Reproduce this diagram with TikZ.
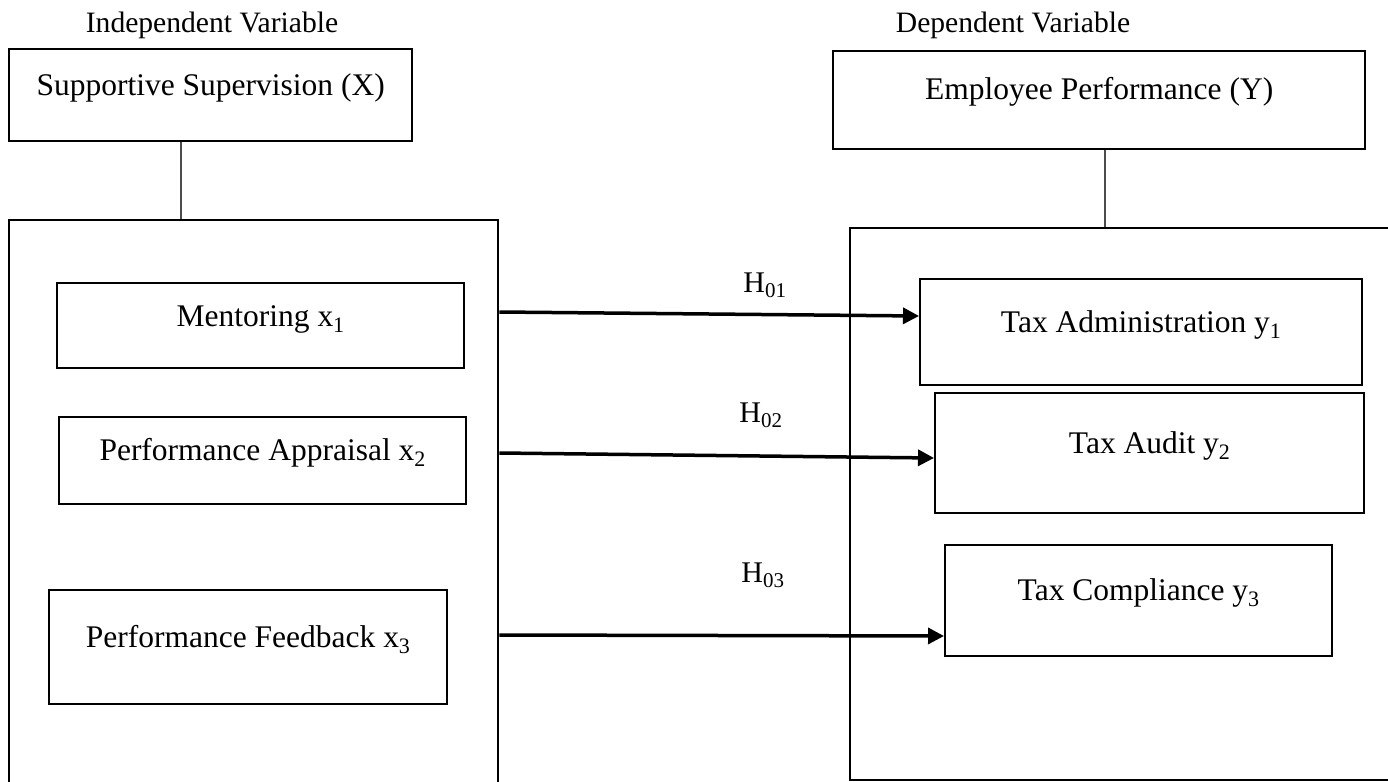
\documentclass[tikz,border=0pt]{standalone}
\usepackage{fontspec}
\setmainfont{Liberation Serif}
\usepackage{tikz}
\usetikzlibrary{arrows.meta}
\usetikzlibrary{positioning}

\tikzset{
  varbox/.style n args={3}{draw, line width=2.4pt, anchor=north west, inner sep=0pt,
    minimum width=#1, text height=#2, text depth=#3,
    font=\fontsize{31.5}{36}\selectfont},
  frame/.style 2 args={draw, line width=2.4pt, anchor=north west, inner sep=0pt,
    minimum width=#1, minimum height=#2},
  varlabel/.style={anchor=base, font=\fontsize{29.6}{34}\selectfont},
  hyplabel/.style={anchor=base, font=\fontsize{30}{34}\selectfont},
  link/.style={line width=1.3pt, black!70},
  hyp/.style={-{Triangle[length=16pt,width=16pt]}, line width=3.5pt}
}

\begin{document}
\begin{tikzpicture}[x=1pt,y=-1pt]
    \useasboundingbox (0,0) rectangle (1388,781);

    \node[varlabel] (indep) at (212,33) {Independent Variable};
    \node[varlabel] (dep) at (1013,33) {Dependent Variable};

    \node[varbox={403pt}{46pt}{46pt}] (supv) at (8,48) {Supportive Supervision (X)};
    \node[varbox={532pt}{48pt}{50pt}] (perf) at (832,50) {Employee Performance (Y)};

    \node[frame={489pt}{580pt}] (leftbig) at (8,219) {};
    \node[frame={560pt}{552pt}] (rightbig) at (849,227) {};

    \begin{scope}
        \node[varbox={407pt}{43pt}{42pt}] (ment) at (56,282) {Mentoring x\textsubscript{1}};
        \node[varbox={407pt}{43pt}{44pt}] (appr) at (58,416) {Performance Appraisal x\textsubscript{2}};
        \node[varbox={398pt}{57pt}{57pt}] (feed) at (48,589) {Performance Feedback x\textsubscript{3}};
    \end{scope}

    \begin{scope}
        \node[varbox={442pt}{53pt}{53pt}] (admin) at (919,278) {Tax Administration y\textsubscript{1}};
        \node[varbox={429pt}{60pt}{60pt}] (audit) at (934,392) {Tax Audit y\textsubscript{2}};
        \node[varbox={387pt}{55pt}{56pt}] (comp) at (944,544) {Tax Compliance y\textsubscript{3}};
    \end{scope}

    \draw[link] (supv.south -| 181,0) -- (leftbig.north -| 181,0);
    \draw[link] (perf.south -| 1105,0) -- (rightbig.north -| 1105,0);

    \node[hyplabel] (h1) at (765,292) {H\textsubscript{01}};
    \node[hyplabel] (h2) at (761,422) {H\textsubscript{02}};
    \node[hyplabel] (h3) at (763,582) {H\textsubscript{03}};

    \draw[hyp] (leftbig.east |- 0,312) -- (admin.west |- 0,316);
    \draw[hyp] (leftbig.east |- 0,453) -- (audit.west |- 0,458);
    \draw[hyp] (leftbig.east |- 0,635) -- (comp.west |- 0,636);
\end{tikzpicture}
\end{document}
